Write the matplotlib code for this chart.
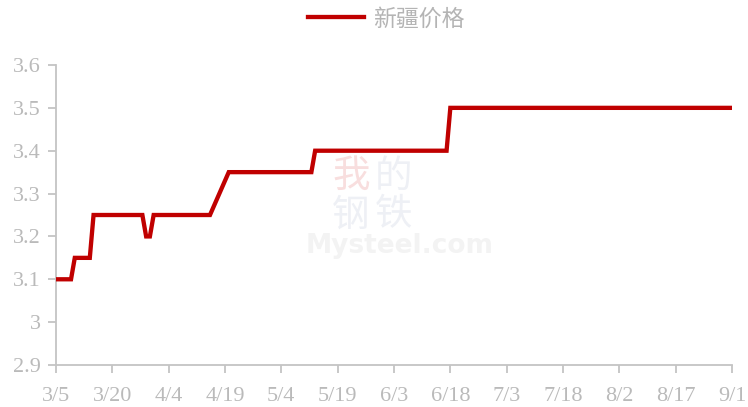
import numpy as np
import pandas as pd
import matplotlib
matplotlib.use("Agg")
import matplotlib.pyplot as plt

# ------------------- DATA -------------------
dates = ["2023-03-05", "2023-03-09", "2023-03-10", "2023-03-14", "2023-03-15",
         "2023-03-28", "2023-03-29", "2023-03-30", "2023-03-31", "2023-04-15",
         "2023-04-20", "2023-05-12", "2023-05-13", "2023-06-17", "2023-06-18",
         "2023-09-01"]
prices = [3.10, 3.10, 3.15, 3.15, 3.25,
          3.25, 3.20, 3.20, 3.25, 3.25,
          3.35, 3.35, 3.40, 3.40, 3.50,
          3.50]
series_name = "新疆价格"
y_ticks = [2.9, 3.0, 3.1, 3.2, 3.3, 3.4, 3.5, 3.6]

GREY = "#c4c4c4"
LABEL = "#bababa"
RED = "#c00000"
W, H = 748, 407

# ------------------- PLOT -------------------
plt.rcParams['font.family'] = ['Liberation Serif', 'DejaVu Serif']

x = pd.to_datetime(dates)
fig = plt.figure(figsize=(W / 100, H / 100), dpi=100)
ax = fig.add_axes([56 / W, 42 / H, 676 / W, 300 / H])

ax.plot(x, prices, color=RED, lw=3.1, solid_joinstyle='miter', label=series_name,
        zorder=3)

ax.set_ylim(2.9, 3.6)
ax.set_yticks(y_ticks)
ax.set_yticklabels([f"{v:g}" for v in y_ticks])

xt = pd.date_range(x[0], x[-1], freq="15D")
ax.set_xlim(x[0], x[-1])
ax.set_xticks(xt)
ax.set_xticklabels([f"{d.month}/{d.day}" for d in xt])

for s in ["top", "right"]:
    ax.spines[s].set_visible(False)
for s in ["left", "bottom"]:
    ax.spines[s].set_color(GREY)
    ax.spines[s].set_linewidth(1.3)
ax.tick_params(axis="both", colors=GREY, labelcolor=LABEL, labelsize=16,
               length=6, width=1.3)
ax.tick_params(axis="y", pad=5)
ax.tick_params(axis="x", pad=10)

# watermark
wm = [("我", 351, 176, "#f8dede"), ("的", 394, 176, "#eef0f5"),
      ("钢", 351, 215, "#eef0f5"), ("铁", 394, 215, "#eef0f5")]
for ch, px, py, c in wm:
    fig.text(px / W, 1 - py / H, ch, ha="center", va="center", fontsize=27,
             color=c, family=["Noto Sans CJK SC"], zorder=0)
fig.text(400 / W, 1 - 246 / H, "Mysteel.com", ha="center", va="center",
         fontsize=19, color="#f3f3f3", family=["DejaVu Sans"], fontweight="bold",
         zorder=0)
ax.patch.set_alpha(0)

leg = fig.legend(loc="center", bbox_to_anchor=(386 / W, 1 - 19 / H), frameon=False,
                 handlelength=2.45, handletextpad=0.4,
                 prop={"family": ["Noto Sans CJK SC"], "size": 16.5})
for t in leg.get_texts():
    t.set_color("#b4b4b4")

fig.savefig("out.png", dpi=100)
